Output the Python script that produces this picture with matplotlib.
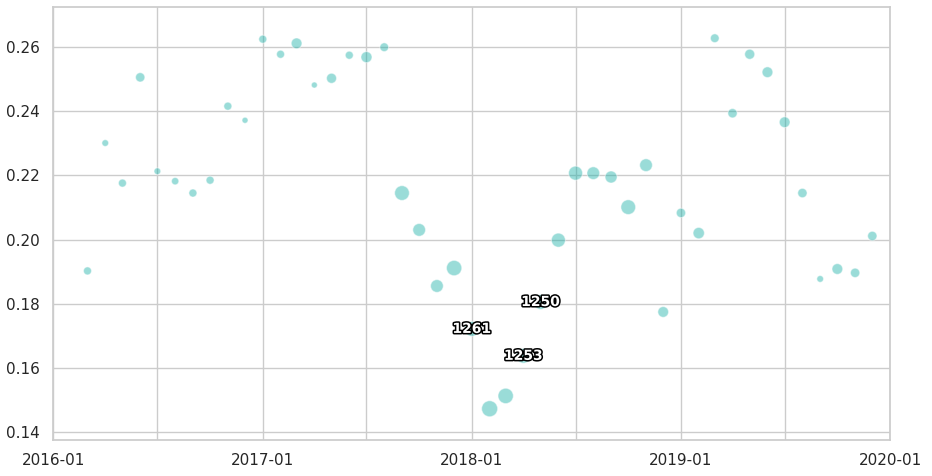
import numpy as np
import pandas as pd

import matplotlib
matplotlib.use("Agg")
import matplotlib.pyplot as plt
import matplotlib.patheffects as pe
import seaborn as sns


# 每月一个点：日期、数值、样本量（气泡大小）
months = pd.date_range("2016-03-01", "2019-12-01", freq="MS")

values = [
    0.1902, 0.2301, 0.2176, 0.2506, 0.2213, 0.2182, 0.2145, 0.2185, 0.2416, 0.2372,
    0.2625, 0.2578, 0.2612, 0.2482, 0.2503, 0.2575, 0.2569, 0.2600, 0.2145, 0.2030,
    0.1855, 0.1911, 0.1721, 0.1472, 0.1512, 0.1637, 0.1805, 0.1998, 0.2207, 0.2207,
    0.2195, 0.2101, 0.2232, 0.1774, 0.2083, 0.2020, 0.2628, 0.2394, 0.2578, 0.2522,
    0.2366, 0.2145, 0.1877, 0.1908, 0.1896, 0.2011,
]

counts = [
    372, 261, 372, 503, 261, 310, 372, 372, 372, 210,
    372, 372, 666, 210, 582, 372, 704, 440, 1258, 939,
    939, 1362, 1261, 1490, 1362, 1253, 1250, 1141, 1141, 939,
    838, 1258, 939, 666, 503, 745, 440, 503, 582, 666,
    666, 503, 261, 666, 503, 503,
]

# 需要标注的点
label_months = ["2018-01-01", "2018-04-01", "2018-05-01"]

xtick_dates = pd.date_range("2016-01-01", "2020-01-01", freq="6MS")
ytick_values = [0.14, 0.16, 0.18, 0.20, 0.22, 0.24, 0.26]


def main():
    sns.set_theme(style="whitegrid")

    df = pd.DataFrame({"month": months, "value": values, "count": counts})

    fig = plt.figure(figsize=(9.32, 4.76), dpi=100)
    ax = fig.add_subplot(111)
    fig.subplots_adjust(left=0.057, right=0.955, top=0.985, bottom=0.076)

    ax.scatter(
        df["month"],
        df["value"],
        s=df["count"] / 11.2,
        color="lightseagreen",
        alpha=0.45,
        edgecolors="white",
        linewidths=0.8,
        zorder=3,
    )

    for m in label_months:
        row = df[df["month"] == pd.Timestamp(m)].iloc[0]
        ax.text(
            row["month"],
            row["value"],
            f"{int(row['count'])}",
            ha="center",
            va="center",
            fontsize=10,
            fontweight="bold",
            color="white",
            zorder=5,
            path_effects=[pe.withStroke(linewidth=2.2, foreground="black")],
        )

    ax.set_xlim(pd.Timestamp("2016-01-01"), pd.Timestamp("2020-01-01"))
    ax.set_ylim(0.1375, 0.2725)

    ax.set_xticks(xtick_dates)
    ax.set_xticklabels([d.strftime("%Y-%m") if d.month == 1 else "" for d in xtick_dates])
    ax.set_yticks(ytick_values)
    ax.set_yticklabels([f"{v:.2f}" for v in ytick_values])

    fig.savefig("out.png", dpi=100)
    plt.close(fig)


if __name__ == "__main__":
    main()
